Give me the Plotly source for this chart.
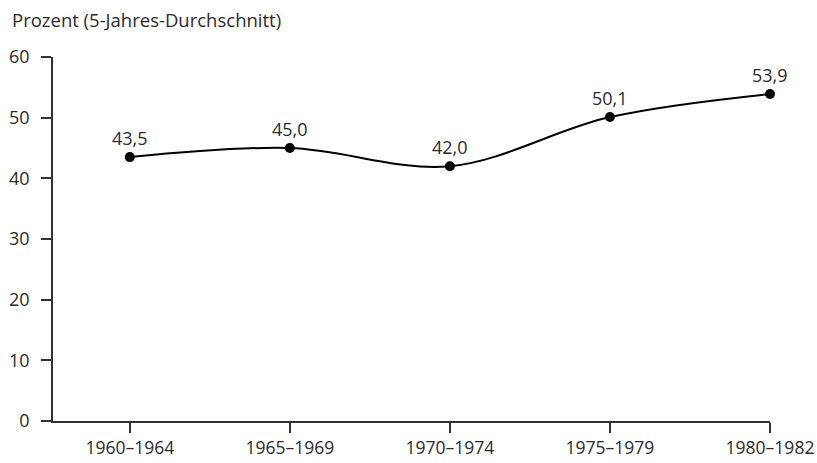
import plotly.graph_objects as go

categories = ["1960–1964", "1965–1969", "1970–1974", "1975–1979", "1980–1982"]
values = [43.5, 45.0, 42.0, 50.1, 53.9]
labels = ["43,5", "45,0", "42,0", "50,1", "53,9"]
y_ticks = [0, 10, 20, 30, 40, 50, 60]

FONT = "Open Sans"
TXT = "#2b2b2b"
AX = "#333333"
FS = 18

xs = list(range(len(categories)))

W, H = 817, 463

fig = go.Figure()
fig.add_trace(go.Scatter(
    x=xs, y=values, mode="lines+markers",
    line=dict(color="black", width=2, shape="spline", smoothing=1.0),
    marker=dict(color="black", size=10),
    cliponaxis=False, hoverinfo="skip", showlegend=False,
))

for x, v, t in zip(xs, values, labels):
    fig.add_annotation(x=x, y=v, text=t, showarrow=False, yanchor="middle",
                       yshift=19, font=dict(family=FONT, size=FS, color=TXT))

fig.update_layout(
    width=W, height=H,
    margin=dict(l=53, r=47, t=57, b=42),
    paper_bgcolor="white", plot_bgcolor="white",
    font=dict(family=FONT, size=FS, color=TXT),
    title=dict(text="Prozent (5-Jahres-Durchschnitt)", x=12/W, xanchor="left",
               xref="container", y=1-21/H, yanchor="middle", yref="container",
               font=dict(family=FONT, size=18.5, color=TXT)),
)
fig.update_xaxes(
    range=[-0.48, 4], tickvals=xs, ticktext=categories, automargin=False,
    showgrid=False, zeroline=False, showline=True, linecolor=AX, linewidth=1.5,
    ticks="outside", ticklen=10, tickcolor=AX, tickwidth=1.5,
    tickfont=dict(family=FONT, size=17.5, color=TXT),
)
fig.update_yaxes(
    range=[0, 60], tickvals=y_ticks, ticktext=[str(v) for v in y_ticks], automargin=False,
    showgrid=False, zeroline=False, showline=True, linecolor=AX, linewidth=1.5,
    ticks="outside", ticklen=10, tickcolor=AX, tickwidth=1.5, ticklabelstandoff=8,
    tickfont=dict(family=FONT, size=FS, color=TXT),
)

fig.write_html(
    "out.html",
    config={"displayModeBar": False},
    post_script="document.body.style.margin='0';document.body.style.overflow='hidden';",
)
